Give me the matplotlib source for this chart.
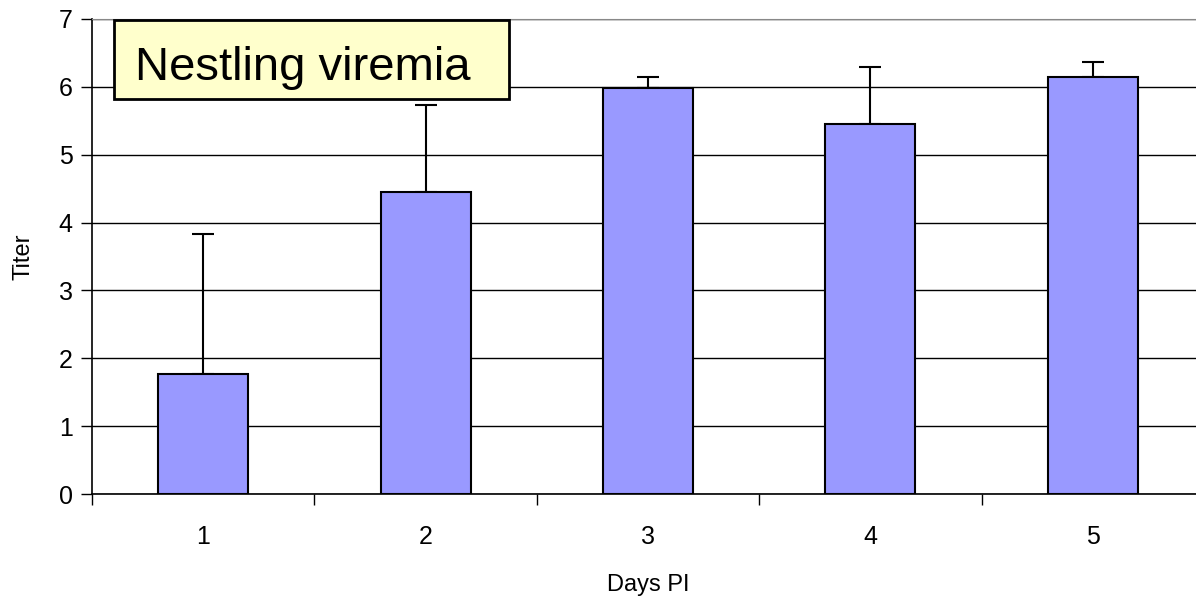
import matplotlib.pyplot as plt
import matplotlib.patches as patches
import numpy as np

plt.rcParams['font.family'] = ['Liberation Sans', 'DejaVu Sans']

days = ['1', '2', '3', '4', '5']
titer = [1.77, 4.45, 5.99, 5.46, 6.14]
err_up = [2.06, 1.29, 0.16, 0.84, 0.22]

fig = plt.figure(figsize=(11.96, 6.06), dpi=100)
# plot area runs slightly past the right edge, like the original
ax = fig.add_axes([92/1196, 1 - 494/606, 1112/1196, 475/606])

x = np.arange(len(days))
ax.bar(x, titer, width=0.405, color='#9999FF', edgecolor='black', linewidth=1.5, zorder=3)
ax.errorbar(x, titer, yerr=[np.zeros(len(days)), err_up], fmt='none',
            ecolor='black', elinewidth=1.5, capsize=8, capthick=1.5, zorder=2)

ax.set_xlim(-0.5, len(days) - 0.5)
ax.set_ylim(0, 7)
ax.set_yticks(range(0, 8))
ax.yaxis.grid(True, color='black', linewidth=1, zorder=0)
ax.set_axisbelow(True)

ax.set_xticks(x)
ax.set_xticklabels(days)
ax.set_xticks(np.arange(-0.5, len(days) - 0.5), minor=True)
ax.tick_params(axis='x', which='major', length=0, pad=22, labelsize=18)
ax.tick_params(axis='x', which='minor', length=8, width=1, direction='out')
ax.tick_params(axis='y', length=8, width=1, labelsize=18, pad=6)

ax.spines['right'].set_visible(False)
ax.spines['top'].set_color('#888888')
ax.spines['left'].set_linewidth(1.2)
ax.spines['bottom'].set_linewidth(1.2)

ax.set_ylabel('Titer', fontsize=17, labelpad=17)
ax.set_xlabel('Days PI', fontsize=17, labelpad=18)

# title box
box = patches.Rectangle((0.0198, 0.8316), 0.355, 0.1664, transform=ax.transAxes,
                        facecolor='#FFFFCC', edgecolor='black', linewidth=2,
                        zorder=5, clip_on=False)
ax.add_patch(box)
ax.text(0.0387, 0.8716, 'Nestling viremia', fontsize=34, va='baseline', ha='left',
        transform=ax.transAxes, zorder=6)

fig.savefig('out.png', dpi=100)
